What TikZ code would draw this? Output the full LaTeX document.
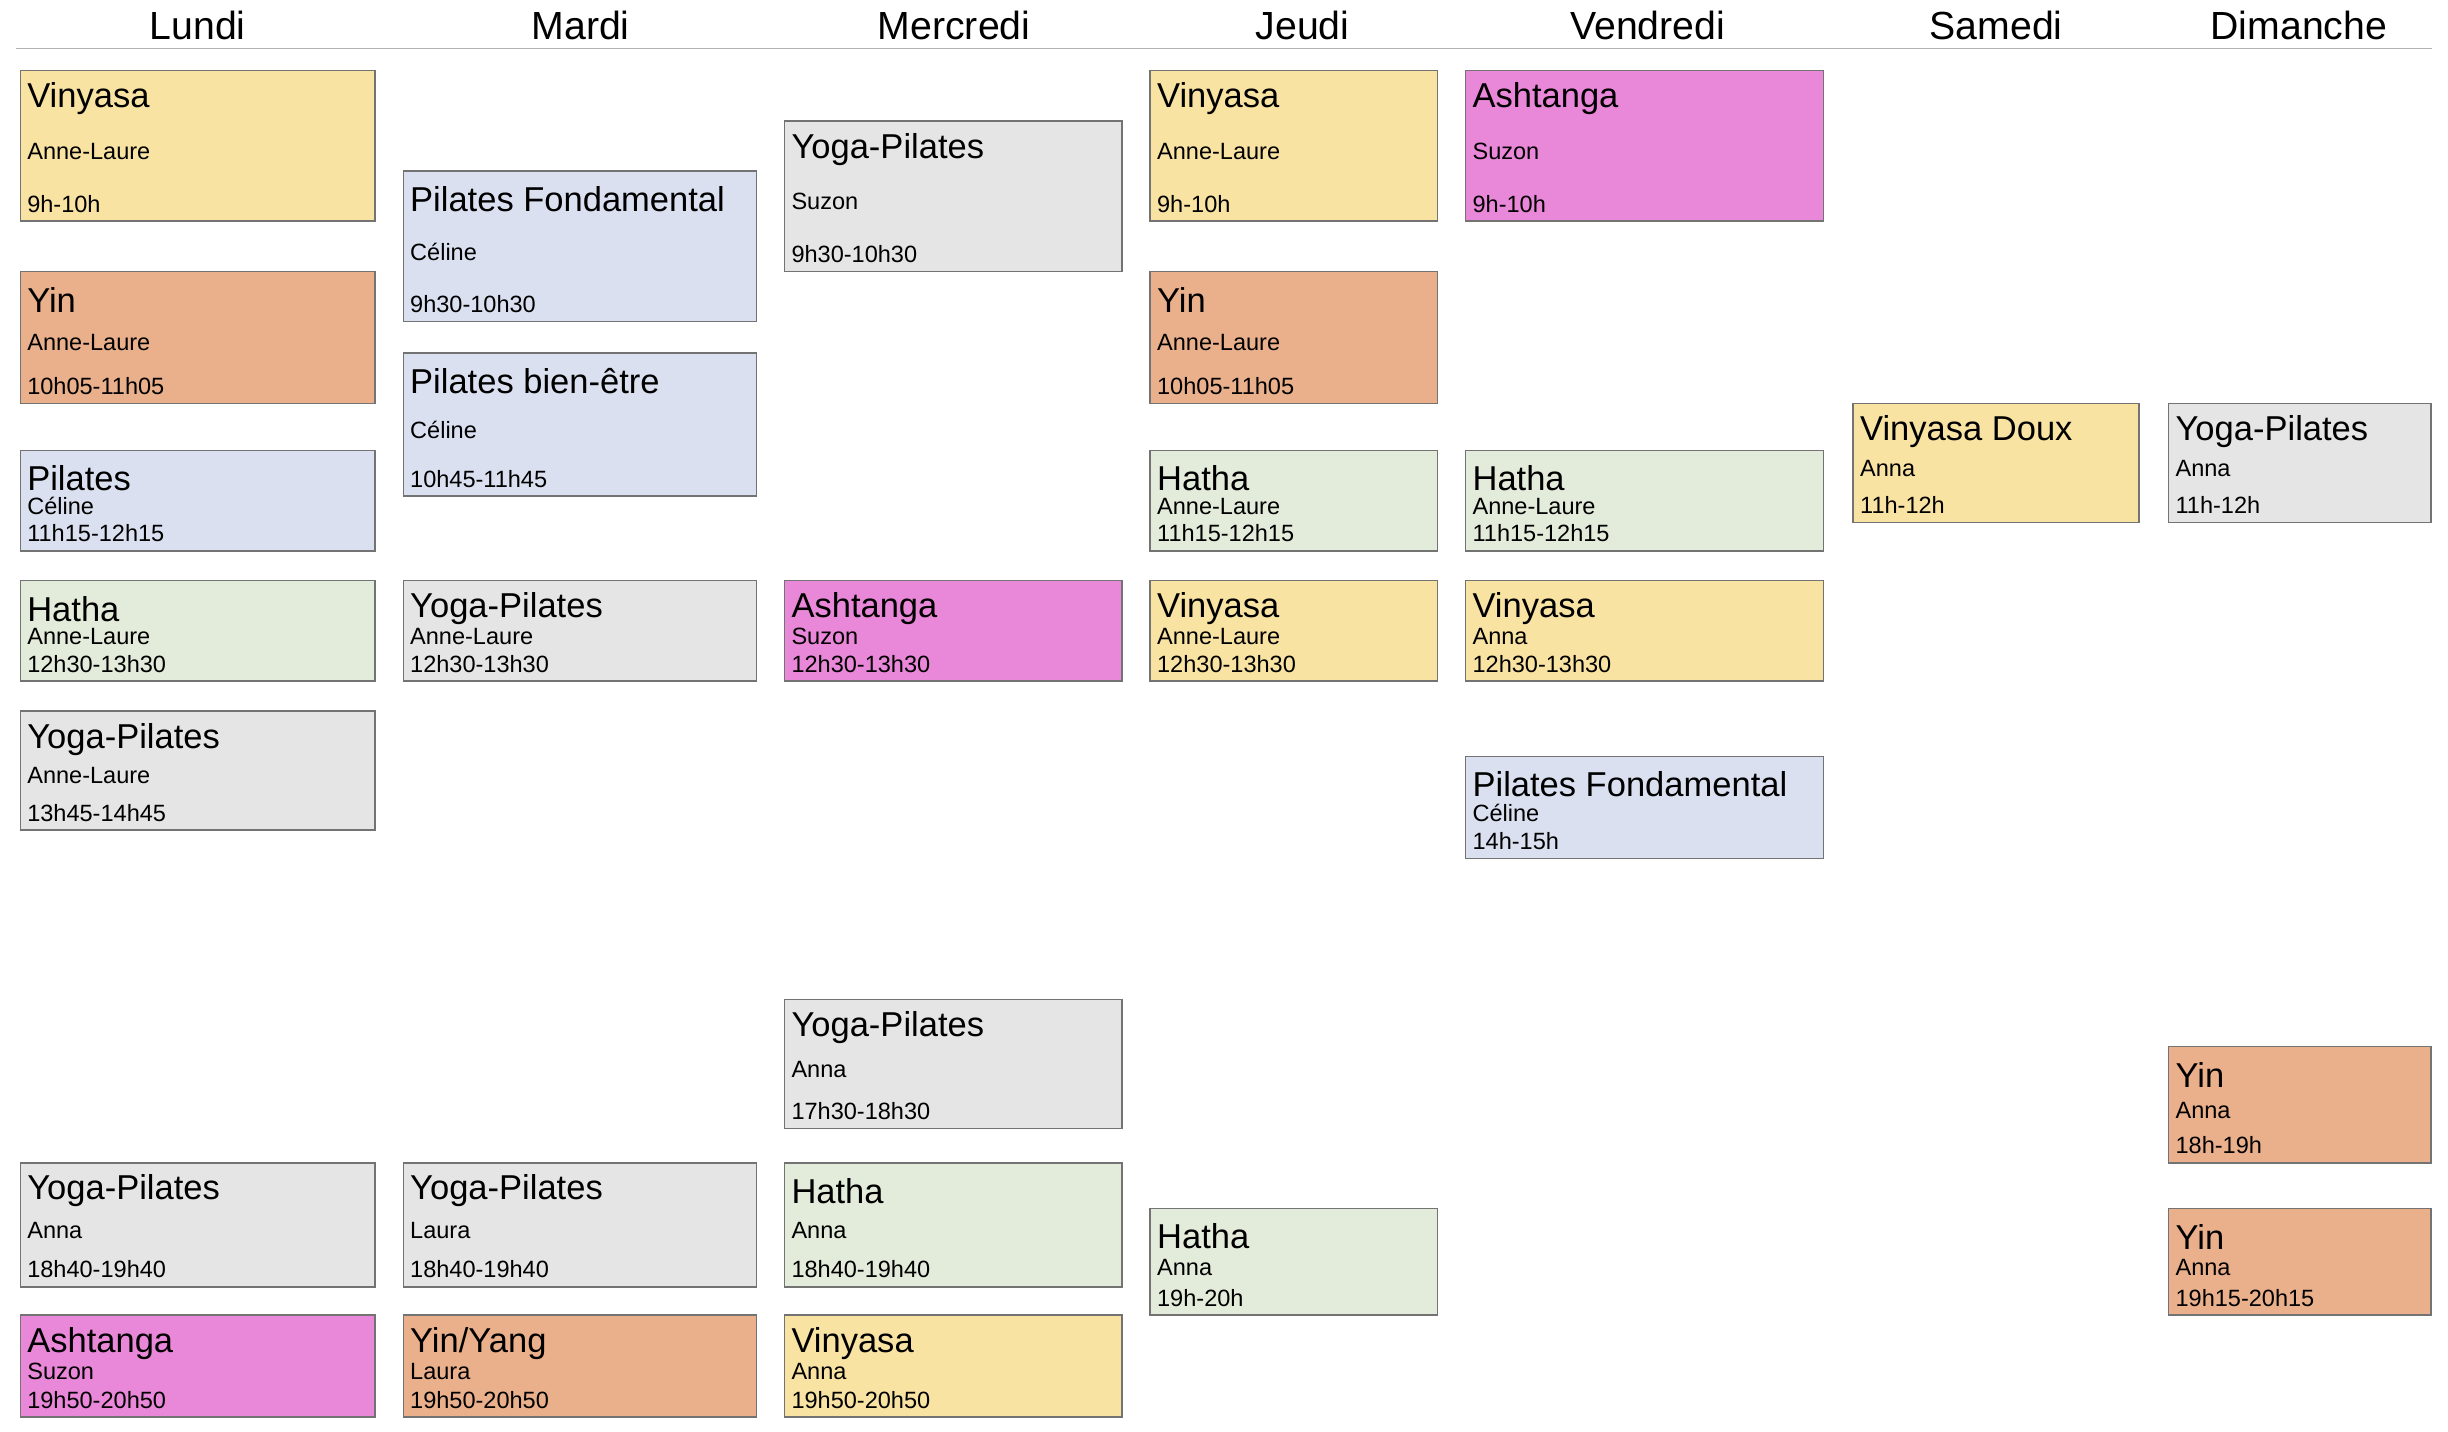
\documentclass[tikz,border=0pt]{standalone}
\usepackage{fontspec}
\setmainfont{Liberation Sans}
\usetikzlibrary{calc, positioning}

\definecolor{jaune}{HTML}{F9E3A3}
\definecolor{orange}{HTML}{EAB08B}
\definecolor{bleu}{HTML}{DAE0EF}
\definecolor{vert}{HTML}{E3ECDA}
\definecolor{gris}{HTML}{E5E5E5}
\definecolor{rose}{HTML}{E987D8}

\tikzset{
  box/.style={draw=black!55, line width=0.5pt, inner sep=0pt, outer sep=0pt},
  titre/.style={anchor=west, inner sep=0pt, font=\fontsize{11}{12}\selectfont},
  info/.style={anchor=west, inner sep=0pt, font=\fontsize{7.5}{8}\selectfont},
  jour/.style={font=\fontsize{12.5}{14}\selectfont}
}

% name, x1, y1, x2, y2, colour, class, teacher, time
\newcommand{\cours}[9]{%
  \pgfmathsetmacro{\cx}{(#2+#4)/2}%
  \pgfmathsetmacro{\cy}{(#3+#5)/2}%
  \pgfmathsetmacro{\cw}{(#4-#2)*0.5}%
  \pgfmathsetmacro{\ch}{(#5-#3)*0.5}%
  \node[box, fill=#6, minimum width=\cw pt, minimum height=\ch pt] (#1) at (\cx,\cy) {};
  \node[titre] (#1t) at ($(#1.north west)+(4,18)$) {#7};
  \node[info] (#1h) at ($(#1.south west)+(4,-11)$) {#9};
  \node[info] (#1p) at ($(#1t.west)!0.5!(#1h.west)$) {#8};
}

\begin{document}
\begin{tikzpicture}[x=0.5pt, y=-0.5pt]
  \useasboundingbox (0,0) rectangle (1560,912.5);

  % days
  \node[jour] (lun) at (126,16) {Lundi};
  \node[jour] (mar) at (370,16) {Mardi};
  \node[jour] (mer) at (608,16) {Mercredi};
  \node[jour] (jeu) at (830,16) {Jeudi};
  \node[jour] (ven) at (1050,16) {Vendredi};
  \node[jour] (sam) at (1272,16) {Samedi};
  \node[jour] (dim) at (1465,16) {Dimanche};
  \draw[black!30, line width=0.5pt] (10,31) -- (1550,31);

  % Lundi
  \cours{lunA}{13}{45}{239}{141}{jaune}{Vinyasa}{Anne-Laure}{9h-10h}
  \cours{lunB}{13}{173}{239}{257}{orange}{Yin}{Anne-Laure}{10h05-11h05}
  \cours{lunC}{13}{287}{239}{351}{bleu}{Pilates}{Céline}{11h15-12h15}
  \cours{lunD}{13}{370}{239}{434}{vert}{Hatha}{Anne-Laure}{12h30-13h30}
  \cours{lunE}{13}{453}{239}{529}{gris}{Yoga-Pilates}{Anne-Laure}{13h45-14h45}
  \cours{lunF}{13}{741}{239}{820}{gris}{Yoga-Pilates}{Anna}{18h40-19h40}
  \cours{lunG}{13}{838}{239}{903}{rose}{Ashtanga}{Suzon}{19h50-20h50}

  % Mardi
  \cours{marA}{257}{109}{482}{205}{bleu}{Pilates Fondamental}{Céline}{9h30-10h30}
  \cours{marB}{257}{225}{482}{316}{bleu}{Pilates bien-être}{Céline}{10h45-11h45}
  \cours{marC}{257}{370}{482}{434}{gris}{Yoga-Pilates}{Anne-Laure}{12h30-13h30}
  \cours{marD}{257}{741}{482}{820}{gris}{Yoga-Pilates}{Laura}{18h40-19h40}
  \cours{marE}{257}{838}{482}{903}{orange}{Yin/Yang}{Laura}{19h50-20h50}

  % Mercredi
  \cours{merA}{500}{77}{715}{173}{gris}{Yoga-Pilates}{Suzon}{9h30-10h30}
  \cours{merB}{500}{370}{715}{434}{rose}{Ashtanga}{Suzon}{12h30-13h30}
  \cours{merC}{500}{637}{715}{719}{gris}{Yoga-Pilates}{Anna}{17h30-18h30}
  \cours{merD}{500}{741}{715}{820}{vert}{Hatha}{Anna}{18h40-19h40}
  \cours{merE}{500}{838}{715}{903}{jaune}{Vinyasa}{Anna}{19h50-20h50}

  % Jeudi
  \cours{jeuA}{733}{45}{916}{141}{jaune}{Vinyasa}{Anne-Laure}{9h-10h}
  \cours{jeuB}{733}{173}{916}{257}{orange}{Yin}{Anne-Laure}{10h05-11h05}
  \cours{jeuC}{733}{287}{916}{351}{vert}{Hatha}{Anne-Laure}{11h15-12h15}
  \cours{jeuD}{733}{370}{916}{434}{jaune}{Vinyasa}{Anne-Laure}{12h30-13h30}
  \cours{jeuE}{733}{770}{916}{838}{vert}{Hatha}{Anna}{19h-20h}

  % Vendredi
  \cours{venA}{934}{45}{1162}{141}{rose}{Ashtanga}{Suzon}{9h-10h}
  \cours{venB}{934}{287}{1162}{351}{vert}{Hatha}{Anne-Laure}{11h15-12h15}
  \cours{venC}{934}{370}{1162}{434}{jaune}{Vinyasa}{Anna}{12h30-13h30}
  \cours{venD}{934}{482}{1162}{547}{bleu}{Pilates Fondamental}{Céline}{14h-15h}

  % Samedi
  \cours{samA}{1181}{257}{1363}{333}{jaune}{Vinyasa Doux}{Anna}{11h-12h}

  % Dimanche
  \cours{dimA}{1382}{257}{1549}{333}{gris}{Yoga-Pilates}{Anna}{11h-12h}
  \cours{dimB}{1382}{667}{1549}{741}{orange}{Yin}{Anna}{18h-19h}
  \cours{dimC}{1382}{770}{1549}{838}{orange}{Yin}{Anna}{19h15-20h15}
\end{tikzpicture}
\end{document}
